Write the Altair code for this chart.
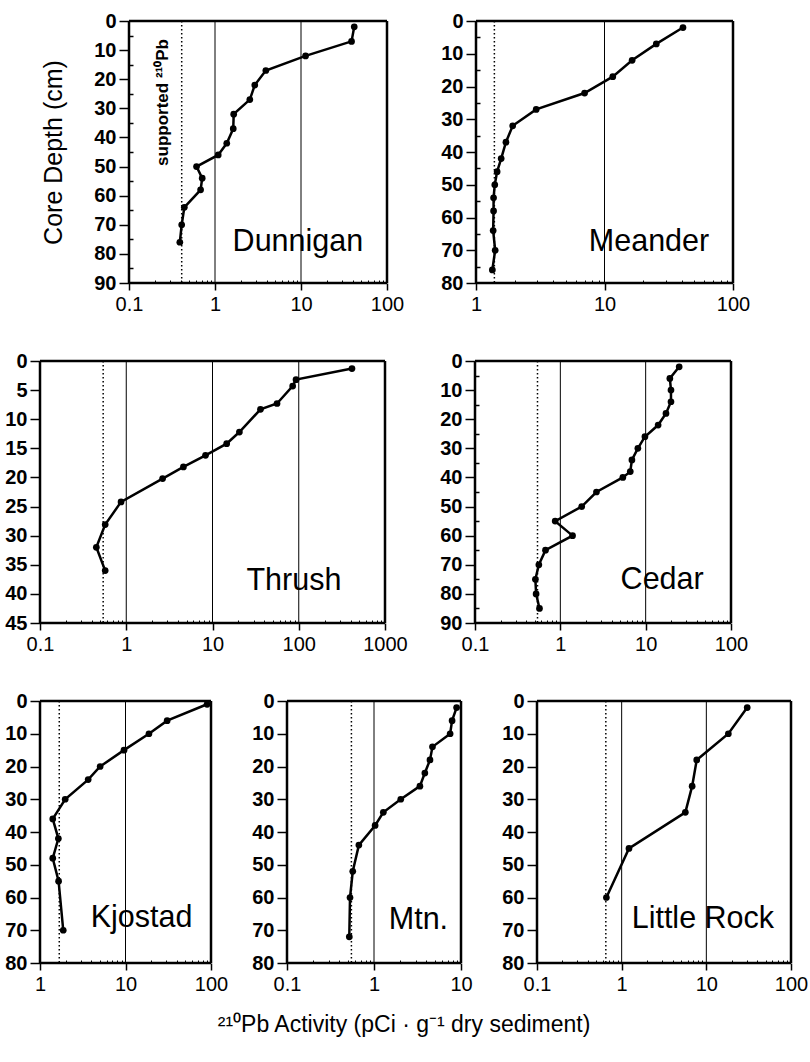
import altair as alt
import pandas as pd

FONT = "Liberation Sans"
M = 8  # inner margin (px) between each view's edge and its plot frame

# ---------------- data ----------------
dunnigan_depth = [2, 7, 12, 17, 22, 27, 32, 37, 42, 46, 50, 54, 58, 64, 70, 76]
dunnigan_act = [41.6, 38.7, 11.3, 3.9, 2.9, 2.54, 1.65, 1.63, 1.37, 1.09, 0.61, 0.71, 0.68, 0.44, 0.41, 0.39]
dunnigan_sup = 0.41

meander_depth = [2, 7, 12, 17, 22, 27, 32, 37, 42, 46, 50, 54, 58, 64, 70, 76]
meander_act = [40.8, 25.3, 16.4, 11.6, 7.0, 2.94, 1.93, 1.71, 1.57, 1.46, 1.40, 1.37, 1.37, 1.36, 1.41, 1.34]
meander_sup = 1.39

thrush_depth = [1.3, 3.2, 4.3, 7.3, 8.3, 12.2, 14.2, 16.2, 18.2, 20.2, 24.2, 28.1, 32.0, 36.0]
thrush_act = [414, 93, 85, 56, 36, 20.5, 14.6, 8.3, 4.6, 2.64, 0.87, 0.57, 0.45, 0.57]
thrush_sup = 0.54

cedar_depth = [2, 6, 10, 14, 18, 22, 26, 30, 34, 38, 40, 45, 50, 55, 60, 65, 70, 75, 80, 85]
cedar_act = [24.7, 19.2, 19.8, 19.8, 17.3, 14.0, 9.8, 8.1, 6.9, 6.6, 5.4, 2.65, 1.78, 0.87, 1.39, 0.67, 0.56, 0.51, 0.52, 0.57]
cedar_sup = 0.54

kjostad_depth = [1, 6, 10, 15, 20, 24, 30, 36, 42, 48, 55, 70]
kjostad_act = [90, 30.7, 18.8, 9.6, 5.05, 3.66, 1.97, 1.41, 1.64, 1.41, 1.65, 1.87]
kjostad_sup = 1.68

mtn_depth = [2, 6, 10, 14, 18, 22, 26, 30, 34, 38, 44, 52, 60, 72]
mtn_act = [8.9, 7.9, 7.5, 4.7, 4.4, 3.84, 3.37, 2.03, 1.28, 1.03, 0.67, 0.57, 0.53, 0.52]
mtn_sup = 0.55

littlerock_depth = [2, 10, 18, 26, 34, 45, 60]
littlerock_act = [30.4, 18.2, 7.7, 6.8, 5.65, 1.22, 0.66]
littlerock_sup = 0.65

X_TITLE = "²¹⁰Pb Activity (pCi · g⁻¹ dry sediment)"
Y_TITLE = "Core Depth (cm)"
SUPPORTED_LABEL = "supported ²¹⁰Pb"


def decades(lo, hi):
    out, v = [], lo
    while v <= hi * 1.0001:
        out.append(v)
        v = round(v * 10, 6)
    return out


def minor_vals(lo, hi):
    out = []
    for d in decades(lo, hi)[:-1]:
        for k in range(2, 10):
            out.append(round(d * k, 6))
    return out


def panel(name, depth, act, sup, xdom, ymax, ystep, w, h, lab_x, lab_y,
          minor_y=None, ytitle=None, extra=None):
    df = pd.DataFrame({"depth": depth, "act": act, "ord": list(range(len(depth)))})
    xscale = alt.Scale(type="log", domain=xdom, nice=False, padding=M)
    yscale = alt.Scale(domain=[0, ymax], reverse=True, nice=False, zero=False, padding=M)

    xmajor = alt.Axis(values=decades(*xdom), format="~g", orient="bottom", offset=-M,
                      grid=False, ticks=True, tickSize=7, tickWidth=1.5, tickColor="black",
                      labelFontSize=20, labelColor="black", labelFont=FONT,
                      labelPadding=4, labelFlush=False, labelOverlap=False,
                      domain=False, title=None)
    xminor = alt.Axis(values=minor_vals(*xdom), orient="bottom", labels=False,
                      ticks=True, tickSize=3, tickWidth=1, tickColor="black",
                      domain=False, grid=False, title=None, offset=-(M + 3))
    ykw = dict(values=list(range(0, ymax + 1, ystep)), format="d", orient="left",
               offset=-M, grid=False, ticks=True, tickSize=10, tickWidth=1.5,
               tickColor="black", labelFontSize=20, labelFontWeight="bold",
               labelColor="black", labelFont=FONT, labelPadding=3,
               labelOverlap=False, domain=False)
    if ytitle:
        ykw.update(title=ytitle, titleFont=FONT, titleFontSize=25,
                   titleFontWeight="normal", titleColor="black", titlePadding=27)
    else:
        ykw.update(title=None)
    ymajor = alt.Axis(**ykw)

    # frame and decade grid lines, drawn through the panel's scales
    vdf = pd.DataFrame({"vx": [xdom[0], xdom[1]], "y0": [0, 0], "y1": [ymax, ymax]})
    vedges = alt.Chart(vdf).mark_rule(color="black", strokeWidth=2.5).encode(
        x=alt.X("vx:Q", scale=xscale, axis=None),
        y=alt.Y("y0:Q", scale=yscale, axis=None), y2="y1:Q")
    hdf = pd.DataFrame({"hy": [0, ymax], "x0": [xdom[0]] * 2, "x1": [xdom[1]] * 2})
    hedges = alt.Chart(hdf).mark_rule(color="black", strokeWidth=2.5).encode(
        y=alt.Y("hy:Q", scale=yscale, axis=None),
        x=alt.X("x0:Q", scale=xscale, axis=None), x2="x1:Q")
    inner = decades(*xdom)[1:-1]
    gdf = pd.DataFrame({"gx": inner, "y0": [0] * len(inner), "y1": [ymax] * len(inner)})
    grid = alt.Chart(gdf).mark_rule(color="black", strokeWidth=1).encode(
        x=alt.X("gx:Q", scale=xscale, axis=None),
        y=alt.Y("y0:Q", scale=yscale, axis=None), y2="y1:Q")

    base = alt.Chart(df)
    line = base.mark_line(color="black", strokeWidth=2.5).encode(
        x=alt.X("act:Q", scale=xscale, axis=xmajor),
        y=alt.Y("depth:Q", scale=yscale, axis=ymajor),
        order="ord:Q",
    )
    pts = base.mark_circle(color="black", size=45, opacity=1).encode(
        x=alt.X("act:Q", scale=xscale, axis=None),
        y=alt.Y("depth:Q", scale=yscale, axis=None),
    )
    sdf = pd.DataFrame({"sup": [sup], "y0": [0], "y1": [ymax]})
    sup_rule = alt.Chart(sdf).mark_rule(
        color="black", strokeWidth=1.5, strokeDash=[1.5, 2.5]
    ).encode(x=alt.X("sup:Q", scale=xscale, axis=xminor),
             y=alt.Y("y0:Q", scale=yscale, axis=None), y2="y1:Q")

    if minor_y:
        yaxis_lab = alt.Axis(values=minor_y, orient="left", labels=False, ticks=True,
                             tickSize=4, tickWidth=1.5, tickColor="black",
                             domain=False, grid=False, title=None, offset=-(M + 4))
    else:
        yaxis_lab = None
    lab = alt.Chart(pd.DataFrame({"lx": [lab_x], "ly": [lab_y], "t": [name]})).mark_text(
        font=FONT, fontSize=30.5, color="black", align="center", baseline="middle"
    ).encode(
        x=alt.X("lx:Q", scale=xscale, axis=None),
        y=alt.Y("ly:Q", scale=yscale, axis=yaxis_lab),
        text="t:N",
    )
    layers = [grid, sup_rule, vedges, hedges, line, pts, lab]
    if extra is not None:
        ex = alt.Chart(pd.DataFrame({"ex": [extra[0]], "ey": [extra[1]], "t": [extra[2]]})).mark_text(
            font=FONT, fontSize=17, fontWeight="bold", color="black", angle=270,
            align="center", baseline="middle"
        ).encode(
            x=alt.X("ex:Q", scale=xscale, axis=None),
            y=alt.Y("ey:Q", scale=yscale, axis=None),
            text="t:N",
        )
        layers.append(ex)
    return alt.layer(*layers).resolve_axis(x="independent", y="independent").properties(
        width=w + 2 * M, height=h + 2 * M
    )


def spacer(w, h):
    return alt.Chart(pd.DataFrame({"v": [0]})).mark_point(opacity=0, size=1).encode(
        x=alt.value(0), y=alt.value(0)
    ).properties(width=w, height=h)


five90 = list(range(5, 90, 10))
five80 = list(range(5, 80, 10))

dunnigan = panel("Dunnigan", dunnigan_depth, dunnigan_act, dunnigan_sup, [0.1, 100], 90, 10,
                 258, 262, 9.2, 76, minor_y=five90, ytitle=Y_TITLE,
                 extra=(0.25, 28, SUPPORTED_LABEL))
meander = panel("Meander", meander_depth, meander_act, meander_sup, [1, 100], 80, 10,
                257, 262, 22.2, 67.5, minor_y=five80)
thrush = panel("Thrush", thrush_depth, thrush_act, thrush_sup, [0.1, 1000], 45, 5,
               345, 262, 88, 37.8)
cedar = panel("Cedar", cedar_depth, cedar_act, cedar_sup, [0.1, 100], 90, 10,
              256, 262, 15.6, 75.2, minor_y=five90)
kjostad = panel("Kjostad", kjostad_depth, kjostad_act, kjostad_sup, [1, 100], 80, 10,
                171, 262, 15.4, 66.3)
mtn = panel("Mtn.", mtn_depth, mtn_act, mtn_sup, [0.1, 10], 80, 10,
            174, 262, 3.24, 66.9)
littlerock = panel("Little Rock", littlerock_depth, littlerock_act, littlerock_sup, [0.1, 100], 80, 10,
                   254, 262, 9.1, 66.6)

# rows: flush layout; a leading spacer fixes where each row's first plot starts
row1 = alt.hconcat(spacer(128 - M, 338), dunnigan, spacer(89 - 2 * M, 1), meander,
                   spacing=0, bounds="flush")
row2 = alt.hconcat(spacer(39 - M, 338), thrush, spacer(90 - 2 * M, 1), cedar,
                   spacing=0, bounds="flush")
row3 = alt.hconcat(spacer(39 - M, 310), kjostad, spacer(76 - 2 * M, 1), mtn,
                   spacer(76 - 2 * M, 1), littlerock, spacing=0, bounds="flush")

chart = alt.vconcat(row1, row2, row3, spacing=0).properties(
    title=alt.TitleParams(X_TITLE, orient="bottom", anchor="middle", offset=11,
                          font=FONT, fontSize=23, fontWeight="normal", color="black"),
    padding={"left": 0, "top": 11, "right": 0, "bottom": 0},
    background="white",
).configure_view(stroke="transparent", strokeWidth=0)

chart.save("out.html", embed_options={"renderer": "svg", "actions": False})
